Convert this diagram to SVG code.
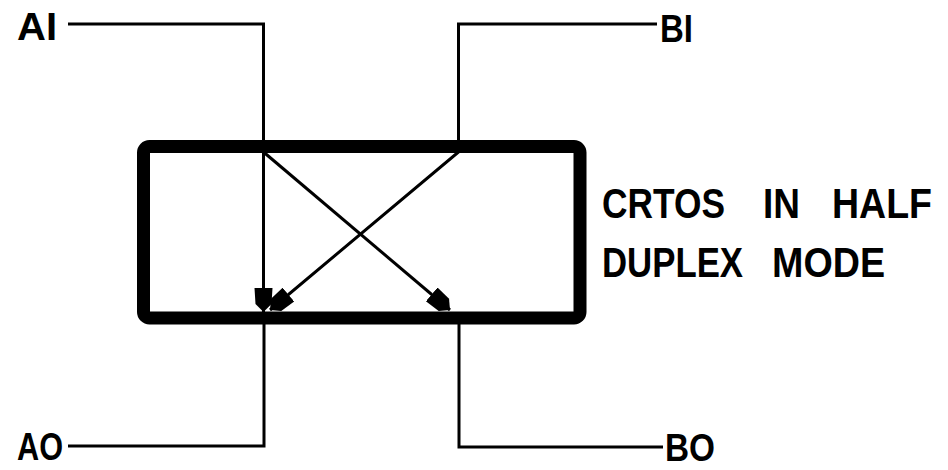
<svg xmlns="http://www.w3.org/2000/svg" width="948" height="470" viewBox="0 0 948 470">
<style>
.w{fill:none;stroke:#000;stroke-width:3;stroke-linejoin:miter}
.t{font-family:"Liberation Sans",Arial,sans-serif;font-weight:bold;fill:#000}
.c{font-size:42px}
</style>
<defs>
<marker id="ah" markerUnits="userSpaceOnUse" markerWidth="26" markerHeight="22" refX="24" refY="11" orient="auto">
<path d="M0,2 L16,3 L24,11 L16,19 L0,20 Z" fill="#000"/>
</marker>
</defs>
<rect width="948" height="470" fill="#fff"/>
<g id="box">
<rect x="143.5" y="146.5" width="436.5" height="171.5" rx="6" fill="none" stroke="#000" stroke-width="13"/>
</g>
<g id="AI"><text class="t" x="17" y="40" font-size="38" textLength="40" lengthAdjust="spacingAndGlyphs">AI</text></g>
<g id="BI"><text class="t" x="660" y="42" font-size="38" textLength="33" lengthAdjust="spacingAndGlyphs">BI</text></g>
<g id="AO"><text class="t" x="17" y="460" font-size="38" textLength="46" lengthAdjust="spacingAndGlyphs">AO</text></g>
<g id="BO"><text class="t" x="665" y="461" font-size="38" textLength="50" lengthAdjust="spacingAndGlyphs">BO</text></g>
<g id="caption">
<text class="t c" x="602" y="218" textLength="123" lengthAdjust="spacingAndGlyphs">CRTOS</text>
<text class="t c" x="763" y="218" textLength="37" lengthAdjust="spacingAndGlyphs">IN</text>
<text class="t c" x="832" y="218" textLength="100" lengthAdjust="spacingAndGlyphs">HALF</text>
<text class="t c" x="602" y="277" textLength="141" lengthAdjust="spacingAndGlyphs">DUPLEX</text>
<text class="t c" x="772" y="277" textLength="113" lengthAdjust="spacingAndGlyphs">MODE</text>
</g>
<g id="connectors">
<path class="w" d="M68,24 H263.5 V312" marker-end="url(#ah)"/>
<path class="w" d="M657,24 H458.5 V152 L270,310" marker-end="url(#ah)"/>
<path class="w" d="M263.5,152 L450,310"  marker-end="url(#ah)"/>
<path class="w" d="M68,446 H264 V322"/>
<path class="w" d="M663,447 H459 V322"/>
</g>
</svg>
